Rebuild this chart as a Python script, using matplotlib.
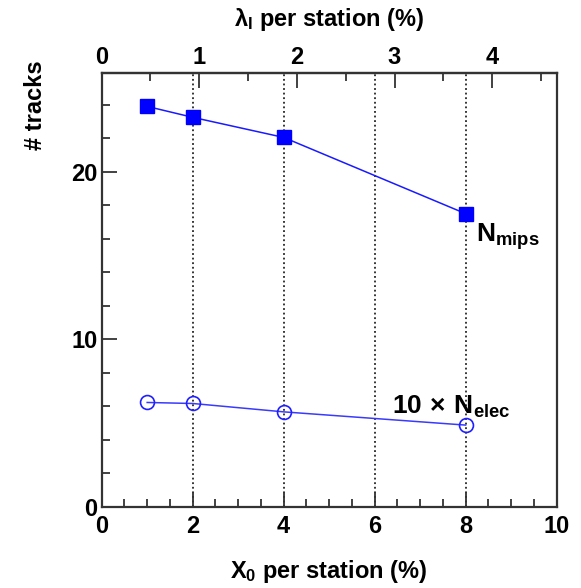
import matplotlib
matplotlib.use("Agg")
import matplotlib.pyplot as plt
from matplotlib.ticker import MultipleLocator

plt.rcParams['font.family'] = ['Liberation Sans', 'DejaVu Sans']
plt.rcParams['font.weight'] = 'bold'
plt.rcParams['axes.labelweight'] = 'bold'
plt.rcParams['mathtext.fontset'] = 'custom'
plt.rcParams['mathtext.rm'] = 'Liberation Sans'
plt.rcParams['mathtext.it'] = 'Liberation Sans:italic'
plt.rcParams['mathtext.bf'] = 'Liberation Sans:bold'

# material per station in radiation lengths (%)
x0_pct = [1, 2, 4, 8]
# mean number of tracks
n_mips = [23.9, 23.25, 22.05, 17.5]
n_elec_x10 = [6.23, 6.17, 5.67, 4.88]

grid_x = [2, 4, 6, 8]
lambda_ticks = [0, 1, 2, 3, 4]
lambda_per_x0 = 0.466   # interaction lengths per radiation length

fig = plt.figure(figsize=(5.81, 5.88), dpi=100)
ax = fig.add_axes([0.175, 0.138, 0.783, 0.738])

# dotted guide lines
for gx in grid_x:
    ax.axvline(gx, color='black', ls=(0, (1.2, 1.8)), lw=1.1, zorder=1)

ax.plot(x0_pct, n_mips, color='#1a1aff', lw=1.1, marker='s', ms=10,
        mfc='#0000ff', mec='#0000ff', zorder=3)
ax.plot(x0_pct, n_elec_x10, color='#3a3aff', lw=1.1, marker='o', ms=10,
        mfc='none', mec='#2020ff', mew=1.2, zorder=3)

ax.text(8.22, 16.1, r'$\mathbf{N_{mips}}$', fontsize=19, ha='left', va='center')
ax.text(6.38, 5.95, r'$\mathbf{10}\,\times\,\mathbf{N_{elec}}$', fontsize=19,
        ha='left', va='center')

ax.set_xlim(0, 10)
ax.set_ylim(0, 25.9)

ax.xaxis.set_major_locator(MultipleLocator(2))
ax.xaxis.set_minor_locator(MultipleLocator(0.5))
ax.yaxis.set_major_locator(MultipleLocator(10))
ax.yaxis.set_minor_locator(MultipleLocator(2))
ax.tick_params(which='both', direction='in', top=False, right=False,
               labelsize=17, width=1.3, color='#333333')
ax.tick_params(which='major', length=11)
ax.tick_params(which='minor', length=6)
ax.tick_params(axis='x', pad=6)
ax.tick_params(axis='y', pad=3)
for sp in ax.spines.values():
    sp.set_linewidth(1.6)
    sp.set_color('#333333')

ax.set_xlabel('X$_{0}$ per station (%)', fontsize=17, labelpad=14)
ax.text(-0.145, 1.03, '# tracks', rotation=90, ha='center', va='top',
        fontsize=17, transform=ax.transAxes)

# upper scale in interaction lengths
top = ax.secondary_xaxis('top', functions=(lambda x: x * lambda_per_x0,
                                           lambda l: l / lambda_per_x0))
top.set_xticks(lambda_ticks)
top.xaxis.set_minor_locator(MultipleLocator(0.5))
top.tick_params(which='both', direction='in', labelsize=17, width=1.3,
                color='#333333', pad=3)
top.tick_params(which='major', length=11)
top.tick_params(which='minor', length=6)
top.spines['top'].set_linewidth(1.6)
top.spines['top'].set_color('#333333')
top.set_xlabel('λ$_{\\mathrm{I}}$ per station (%)', fontsize=17, labelpad=14)

fig.savefig('out.png', dpi=100)
